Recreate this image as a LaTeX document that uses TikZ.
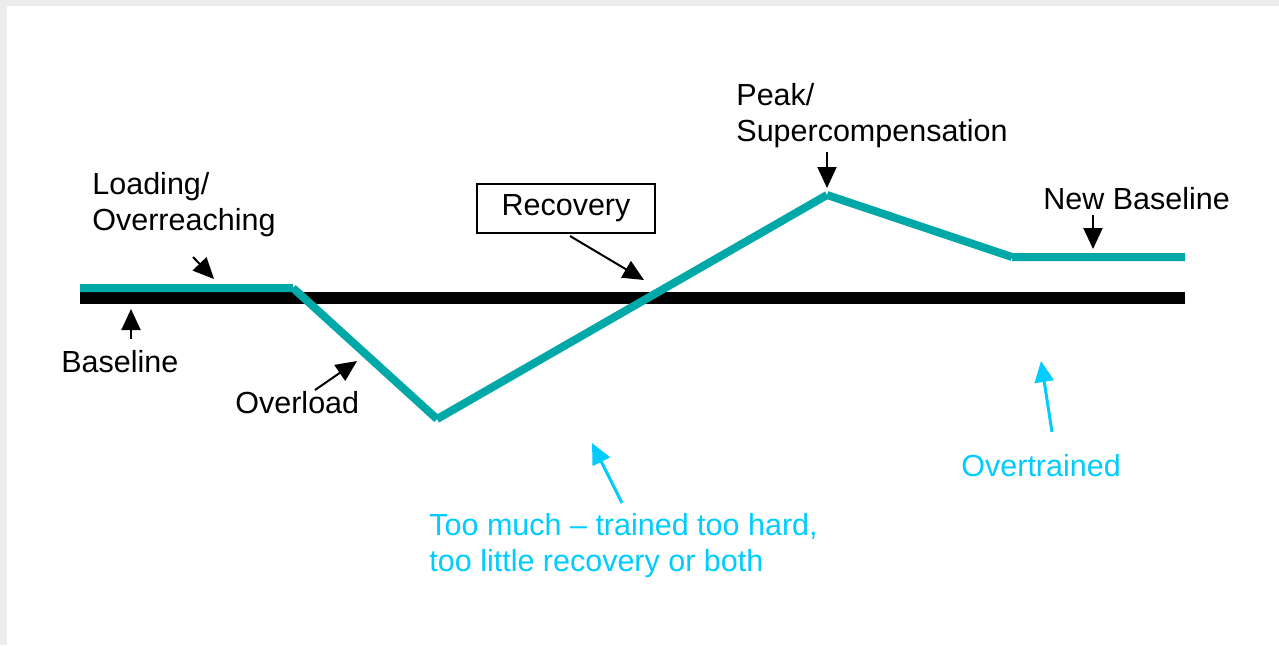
\documentclass[tikz,border=0pt]{standalone}
\usepackage{fontspec}
\setmainfont{Liberation Sans}
\usetikzlibrary{arrows.meta}
\definecolor{trainteal}{RGB}{0,168,168}
\definecolor{warncyan}{RGB}{0,204,255}
\tikzset{
  lbl/.style={anchor=base west,inner sep=0pt,align=left,font=\fontsize{15.25}{18}\selectfont},
  ptr/.style={-{Triangle[length=10.5pt,width=9.5pt]},line width=1pt},
  cptr/.style={ptr,warncyan,line width=1.5pt},
}
\begin{document}
\begin{tikzpicture}[x=0.5pt,y=-0.5pt]
    \useasboundingbox (0,0) rectangle (1279,645);
    \fill[gray!15] (0,0) rectangle (1279,645);
    \fill[white] (7,6) rectangle (1279,645);

    % baseline and training curve
    \coordinate (b0) at (80,298);
    \coordinate (b1) at (1185,298);
    \coordinate (s0) at (80,288);
    \coordinate (s1) at (293,288);
    \coordinate (low) at (437,419);
    \coordinate (peak) at (827,195);
    \coordinate (s4) at (1012,257);
    \coordinate (s5) at (1185,257);
    \draw[line width=6pt] (b0)--(b1);
    \draw[trainteal,line width=4pt] (s0)--(s1) (s1)--(low) (low)--(peak) (peak)--(s4) (s4)--(s5);

    % labels (multi-line ones placed by their last line)
    \node[lbl] (loading) at (92,230) {Loading/\\Overreaching};
    \node[lbl] (base) at (61,372) {Baseline};
    \node[lbl] (overload) at (235,413) {Overload};
    \node[draw,line width=1pt,inner sep=0pt,minimum width=89pt,minimum height=24.5pt,
          font=\fontsize{15.25}{18}\selectfont] (recovery) at (566,208.5) {Recovery};
    \node[lbl] (peaklbl) at (736,141) {Peak/\\Supercompensation};
    \node[lbl] (newbase) at (1043,209) {New Baseline};
    \node[lbl,warncyan] (toomuch) at (429,571) {Too much -- trained too hard,\\too little recovery or both};
    \node[lbl,warncyan] (overtr) at (961,476) {Overtrained};

    % pointers
    \coordinate (load-t) at (193,257);
    \coordinate (load-h) at (214,279);
    \coordinate (base-t) at (131,339);
    \coordinate (base-h) at (131,309);
    \coordinate (ovl-t) at (315,390);
    \coordinate (ovl-h) at (357,361);
    \coordinate (rec-t) at (570,236);
    \coordinate (rec-h) at (644,280);
    \coordinate (peak-t) at (827,152);
    \coordinate (peak-h) at (827,188);
    \coordinate (nb-t) at (1093,215);
    \coordinate (nb-h) at (1093,249);
    \coordinate (tm-t) at (622,503);
    \coordinate (tm-h) at (592,443);
    \coordinate (ot-t) at (1052,432);
    \coordinate (ot-h) at (1041,361);
    \draw[ptr] (load-t)--(load-h);
    \draw[ptr] (base-t)--(base-h);
    \draw[ptr] (ovl-t)--(ovl-h);
    \draw[ptr] (rec-t)--(rec-h);
    \draw[ptr] (peak-t)--(peak-h);
    \draw[ptr] (nb-t)--(nb-h);
    \draw[cptr] (tm-t)--(tm-h);
    \draw[cptr] (ot-t)--(ot-h);
\end{tikzpicture}
\end{document}
